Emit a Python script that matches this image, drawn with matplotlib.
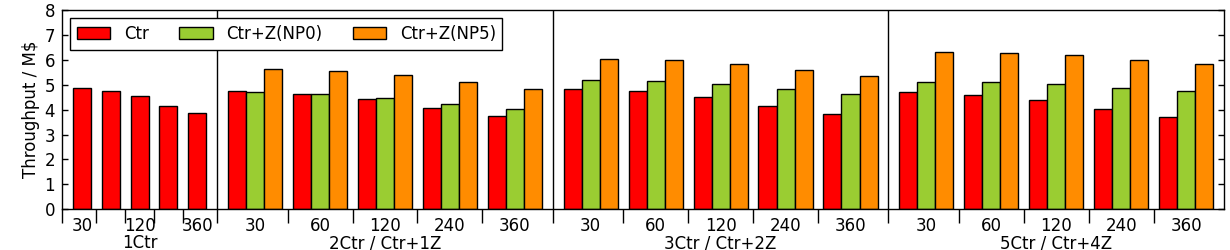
import matplotlib
matplotlib.use("Agg")
import matplotlib.pyplot as plt
import numpy as np

# ---------------- data ----------------
intervals = ["30", "60", "120", "240", "360"]
intervals_1ctr_labels = ["30", "", "120", "", "360"]
group_names = ["1Ctr", "2Ctr / Ctr+1Z", "3Ctr / Ctr+2Z", "5Ctr / Ctr+4Z"]
series_names = ["Ctr", "Ctr+Z(NP0)", "Ctr+Z(NP5)"]
series_colors = ["#ff0000", "#9acd32", "#ff8c00"]

ctr_1 = [4.88, 4.76, 4.56, 4.15, 3.88]

ctr_2 = [4.74, 4.64, 4.44, 4.07, 3.73]
np0_2 = [4.72, 4.64, 4.48, 4.23, 4.02]
np5_2 = [5.63, 5.55, 5.40, 5.12, 4.84]

ctr_3 = [4.84, 4.76, 4.52, 4.15, 3.83]
np0_3 = [5.20, 5.16, 5.04, 4.84, 4.64]
np5_3 = [6.05, 6.01, 5.85, 5.60, 5.36]

ctr_5 = [4.72, 4.60, 4.40, 4.03, 3.71]
np0_5 = [5.12, 5.12, 5.04, 4.88, 4.76]
np5_5 = [6.33, 6.29, 6.21, 6.01, 5.85]

multi_groups = [
    (ctr_2, np0_2, np5_2),
    (ctr_3, np0_3, np5_3),
    (ctr_5, np0_5, np5_5),
]

# ---------------- style ----------------
plt.rcParams.update({
    "font.family": "DejaVu Sans",
    "font.size": 12,
    "axes.linewidth": 1.0,
    "patch.linewidth": 1.0,
    "legend.fancybox": False,
    "legend.edgecolor": "black",
    "legend.framealpha": 1.0,
    "legend.borderpad": 0.4,
    "legend.fontsize": 12,
})

fig = plt.figure(figsize=(12.3, 2.5), dpi=100)
ax = fig.add_axes([62 / 1230, 1 - 209.3 / 250, (1224 - 62) / 1230, (209.3 - 10) / 250])

BW = 1.0    # bar width
GAP = 0.6   # gap between bars / subgroups

sep_ticks = []
label_pos = []
label_txt = []
group_bounds = []

# group 1: single series
x0 = 0.0
for i, v in enumerate(ctr_1):
    slot_start = x0 + i * (BW + GAP)
    sep_ticks.append(slot_start if i == 0 else slot_start + GAP / 2)
    left = slot_start + GAP
    ax.bar(left + BW / 2, v, width=BW, color=series_colors[0], edgecolor="black",
           linewidth=1.0, label=series_names[0] if i == 0 else None)
    label_pos.append(left + BW / 2)
    label_txt.append(intervals_1ctr_labels[i])
x_end = x0 + len(ctr_1) * (BW + GAP) + GAP
group_bounds.append((x0, x_end))

# groups 2-4
gw = len(intervals) * (3 * BW + GAP) + GAP
for g, series in enumerate(multi_groups):
    s = x_end + g * gw
    for j in range(len(intervals)):
        slot_start = s + j * (3 * BW + GAP)
        sep_ticks.append(slot_start if j == 0 else slot_start + GAP / 2)
        left = slot_start + GAP
        for k, vals in enumerate(series):
            ax.bar(left + k * BW + BW / 2, vals[j], width=BW, color=series_colors[k],
                   edgecolor="black", linewidth=1.0,
                   label=series_names[k] if (g == 0 and j == 0 and k > 0) else None)
        label_pos.append(left + 1.5 * BW)
        label_txt.append(intervals[j])
    group_bounds.append((s, s + gw))

xmax = group_bounds[-1][1]
ax.set_xlim(0, xmax)
ax.set_ylim(0, 8)

# group separators
for (a, b) in group_bounds[:-1]:
    ax.axvline(b, color="black", linewidth=1.0)

# ticks
ax.set_xticks(sep_ticks)
ax.set_xticklabels([""] * len(sep_ticks))
ax.set_xticks(label_pos, minor=True)
ax.set_xticklabels(label_txt, minor=True)
ax.tick_params(axis="x", which="major", direction="out", length=10, width=1,
               top=False, bottom=True)
ax.tick_params(axis="x", which="minor", length=0, pad=5.5, top=False, labelsize=12)
ax.set_yticks(np.arange(0, 9, 1))
ax.tick_params(axis="y", which="major", direction="in", length=4, width=1,
               left=True, right=True, labelsize=12, pad=5)

ax.set_ylabel("Throughput / M$", fontsize=12, labelpad=3)

# group labels
for (a, b), name in zip(group_bounds, group_names):
    ax.annotate(name, xy=((a + b) / 2, 0), xycoords=("data", "axes fraction"),
                xytext=(0, -27.9), textcoords="offset points",
                ha="center", va="baseline", fontsize=12)

ax.legend(loc="upper left", ncol=3, borderaxespad=0.5, handlelength=2.0,
          handleheight=0.7, handletextpad=0.8, columnspacing=1.85)

fig.savefig("out.png", dpi=100, facecolor="white")
